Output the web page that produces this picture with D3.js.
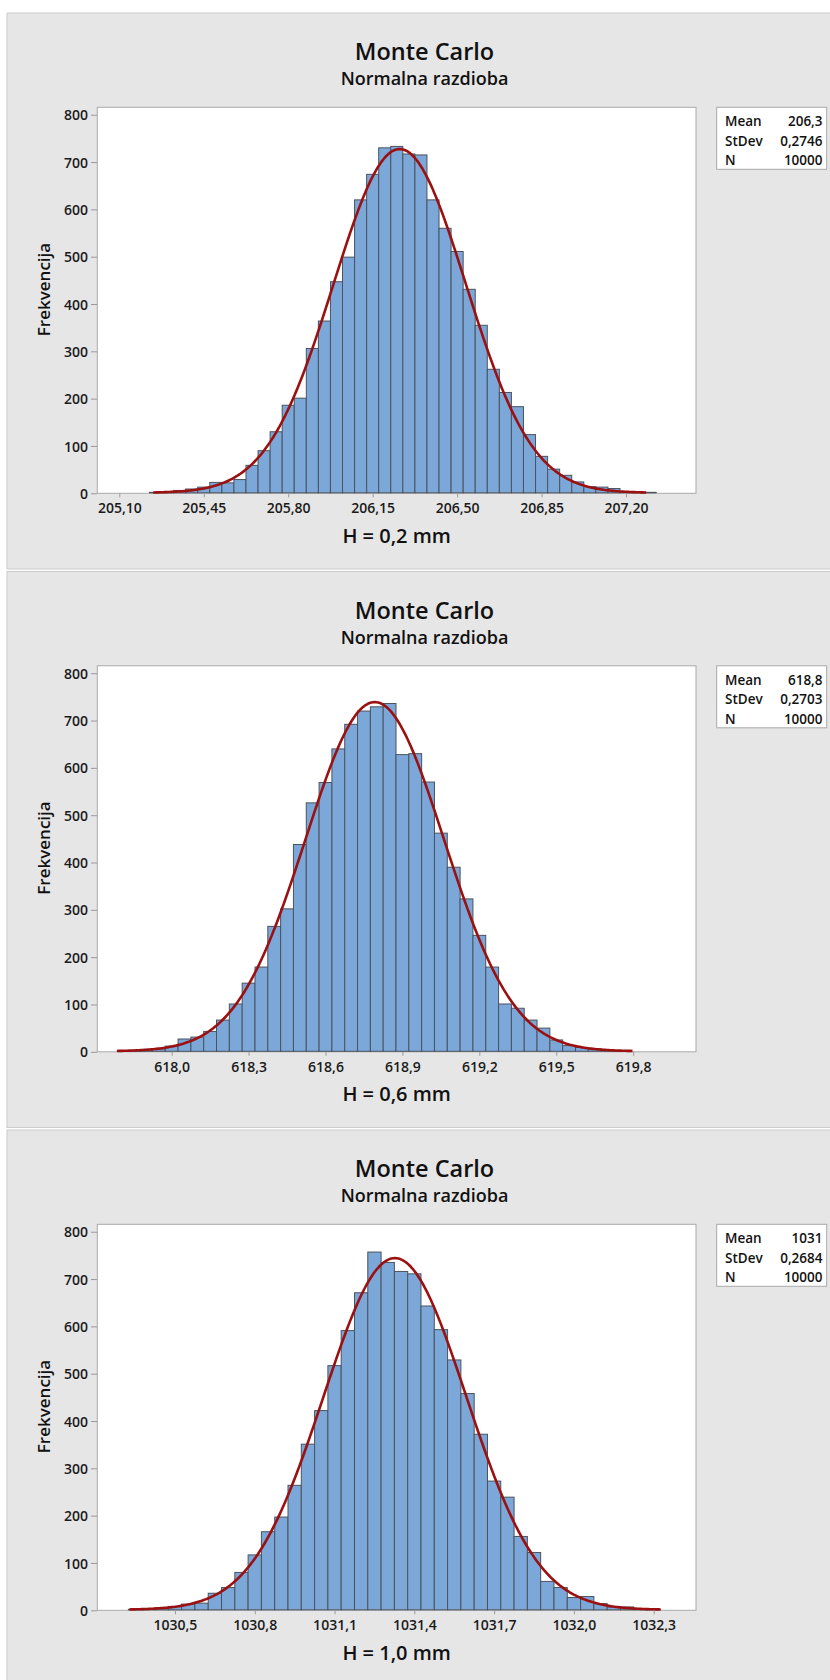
<!DOCTYPE html>
<html>
<head>
<meta charset="utf-8">
<script src="https://cdn.jsdelivr.net/npm/d3@7"></script>
<style>
  html, body { margin: 0; padding: 0; background: #ffffff; }
  svg { display: block; }
  text { font-family: "Open Sans", "Noto Sans", sans-serif; }
</style>
</head>
<body>
<svg id="chart" width="830" height="1680"></svg>
<script>
// ---------------- DATA ----------------
const titles = ["Monte Carlo", "Monte Carlo", "Monte Carlo"];
const subtitles = ["Normalna razdioba", "Normalna razdioba", "Normalna razdioba"];
const xLabels = ["H = 0,2 mm", "H = 0,6 mm", "H = 1,0 mm"];
const yLabel = "Frekvencija";

const binWidth = 0.05;

// bin midpoints (categories) and counts, panel 1
const mids1 = [205.05,205.10,205.15,205.20,205.25,205.30,205.35,205.40,205.45,205.50,
  205.55,205.60,205.65,205.70,205.75,205.80,205.85,205.90,205.95,206.00,
  206.05,206.10,206.15,206.20,206.25,206.30,206.35,206.40,206.45,206.50,
  206.55,206.60,206.65,206.70,206.75,206.80,206.85,206.90,206.95,207.00,
  207.05,207.10,207.15,207.20,207.25,207.30,207.35,207.40,207.45];
const counts1 = [0,0,0,0,1,2,5,8,12,22,
  21,28,58,89,129,185,200,305,363,446,
  498,619,673,729,732,716,714,619,559,510,
  430,354,261,212,182,123,77,50,37,23,
  13,12,9,2,1,1,0,0,0];

// panel 2
const mids2 = [617.75,617.80,617.85,617.90,617.95,618.00,618.05,618.10,618.15,618.20,
  618.25,618.30,618.35,618.40,618.45,618.50,618.55,618.60,618.65,618.70,
  618.75,618.80,618.85,618.90,618.95,619.00,619.05,619.10,619.15,619.20,
  619.25,619.30,619.35,619.40,619.45,619.50,619.55,619.60,619.65,619.70,
  619.75,619.80,619.85,619.90,619.95,620.00];
const counts2 = [0,0,1,3,5,11,26,30,42,66,
  100,144,178,264,301,437,525,568,639,691,
  719,728,735,627,629,569,461,389,322,245,
  178,100,91,66,49,24,12,8,5,2,
  1,0,0,0,0,0];

// panel 3
const mids3 = [1030.25,1030.30,1030.35,1030.40,1030.45,1030.50,1030.55,1030.60,1030.65,1030.70,
  1030.75,1030.80,1030.85,1030.90,1030.95,1031.00,1031.05,1031.10,1031.15,1031.20,
  1031.25,1031.30,1031.35,1031.40,1031.45,1031.50,1031.55,1031.60,1031.65,1031.70,
  1031.75,1031.80,1031.85,1031.90,1031.95,1032.00,1032.05,1032.10,1032.15,1032.20,
  1032.25,1032.30,1032.35,1032.40];
const counts3 = [0,0,1,2,4,7,12,14,35,47,
  79,116,165,196,263,350,421,516,590,670,
  756,734,715,710,642,592,528,457,371,272,
  238,155,121,60,47,26,28,13,6,6,
  2,1,0,0];

// x axis extents and tick values
const xDomains = [[205.0088, 207.490], [617.710, 620.045], [1030.208, 1032.459]];
const xTicks1 = [205.10, 205.45, 205.80, 206.15, 206.50, 206.85, 207.20];
const xTicks2 = [618.0, 618.3, 618.6, 618.9, 619.2, 619.5, 619.8];
const xTicks3 = [1030.5, 1030.8, 1031.1, 1031.4, 1031.7, 1032.0, 1032.3];
const xTickDecimals = [2, 1, 1];
const yTicks = [0, 100, 200, 300, 400, 500, 600, 700, 800];
const yMax = 815.7;

const fitMean = [206.262, 618.792, 1031.327];
const stDev = [0.2746, 0.2703, 0.2684];
const nObs = [10000, 10000, 10000];

// legend texts
const legendKeys = ["Mean", "StDev", "N"];
const legendVals1 = ["206,3", "0,2746", "10000"];
const legendVals2 = ["618,8", "0,2703", "10000"];
const legendVals3 = ["1031", "0,2684", "10000"];

// ---------------- LAYOUT ----------------
const panels = [
  {mids: mids1, counts: counts1, ticks: xTicks1, legend: legendVals1},
  {mids: mids2, counts: counts2, ticks: xTicks2, legend: legendVals2},
  {mids: mids3, counts: counts3, ticks: xTicks3, legend: legendVals3}
];
const panelStep = 558.5;
const plotL = 97.3, plotR = 696, plotT = 107.3, plotB = 493.3;

const svg = d3.select("#chart");

panels.forEach((p, i) => {
  const g = svg.append("g").attr("transform", `translate(0,${i * panelStep})`);

  // panel background
  g.append("rect")
    .attr("x", 7).attr("y", 13)
    .attr("width", 830).attr("height", 556)
    .attr("fill", "#e6e6e6")
    .attr("stroke", "#cbcbcb").attr("stroke-width", 1);

  const x = d3.scaleLinear().domain(xDomains[i]).range([plotL, plotR]);
  const y = d3.scaleLinear().domain([0, yMax]).range([plotB, plotT]);

  // plot frame
  g.append("rect")
    .attr("x", plotL).attr("y", plotT)
    .attr("width", plotR - plotL).attr("height", plotB - plotT)
    .attr("fill", "#ffffff")
    .attr("stroke", "#a9a9a9").attr("stroke-width", 1);

  // bars
  const bins = p.mids.map((m, k) => ({m, c: p.counts[k]}));
  g.append("g").selectAll("rect").data(bins).join("rect")
    .attr("x", d => x(d.m - binWidth / 2))
    .attr("width", d => x(d.m + binWidth / 2) - x(d.m - binWidth / 2))
    .attr("y", d => y(d.c) - 0.5)
    .attr("height", d => y(0) - y(d.c))
    .attr("fill", "#7ba7d9")
    .attr("stroke", "#4b535d")
    .attr("stroke-width", 1);

  // fitted normal curve
  const mu = fitMean[i], sd = stDev[i];
  const scale = nObs[i] * binWidth / (sd * Math.sqrt(2 * Math.PI));
  const xs = d3.range(mu - 3.72 * sd, mu + 3.72 * sd + 1e-9, 7.44 * sd / 300);
  const pts = xs.map(v => [v, scale * Math.exp(-0.5 * ((v - mu) / sd) ** 2)]);
  g.append("path")
    .datum(pts)
    .attr("d", d3.line().x(d => x(d[0])).y(d => y(d[1]) - 0.5))
    .attr("fill", "none")
    .attr("stroke", "#9b1111")
    .attr("stroke-width", 2.6)
    .attr("stroke-linejoin", "round");

  // axes
  const fmt = v => v.toFixed(xTickDecimals[i]).replace(".", ",");
  const xAxis = g.append("g")
    .attr("transform", `translate(0,${plotB})`)
    .call(d3.axisBottom(x).tickValues(p.ticks).tickFormat(fmt).tickSize(4).tickPadding(6));
  const yAxis = g.append("g")
    .attr("transform", `translate(${plotL - 0.3},0)`)
    .call(d3.axisLeft(y).tickValues(yTicks).tickFormat(d3.format("d")).tickSize(6).tickPadding(3));
  [xAxis, yAxis].forEach(a => {
    a.select(".domain").remove();
    a.selectAll(".tick line").attr("stroke", "#9a9a9a");
    a.selectAll(".tick text")
      .attr("fill", "#1a1a1a")
      .style("font-family", '"Open Sans", sans-serif')
      .style("font-size", "14px")
      .style("font-weight", "600");
  });
  yAxis.selectAll(".tick text").attr("dy", "0.36em");

  // titles
  g.append("text")
    .attr("x", 424.5).attr("y", 60)
    .attr("text-anchor", "middle")
    .attr("fill", "#111")
    .style("font-size", "23.5px").style("font-weight", "600")
    .text(titles[i]);
  g.append("text")
    .attr("x", 424.5).attr("y", 85)
    .attr("text-anchor", "middle")
    .attr("fill", "#111")
    .style("font-size", "18px").style("font-weight", "600")
    .text(subtitles[i]);

  // axis titles
  g.append("text")
    .attr("x", (plotL + plotR) / 2).attr("y", 542.5)
    .attr("text-anchor", "middle")
    .attr("fill", "#111")
    .style("font-size", "20px").style("font-weight", "600")
    .text(xLabels[i]);
  g.append("text")
    .attr("transform", "translate(50,289.5) rotate(-90)")
    .attr("text-anchor", "middle")
    .attr("fill", "#111")
    .style("font-size", "17px").style("font-weight", "600")
    .text(yLabel);

  // legend box
  const lg = g.append("g");
  lg.append("rect")
    .attr("x", 716.7).attr("y", plotT)
    .attr("width", 110).attr("height", 62)
    .attr("fill", "#ffffff")
    .attr("stroke", "#a9a9a9").attr("stroke-width", 1);
  const rowY = [126, 145.5, 165];
  legendKeys.forEach((k, r) => {
    lg.append("text")
      .attr("x", 725).attr("y", rowY[r])
      .attr("fill", "#111")
      .style("font-size", "13.5px").style("font-weight", "600")
      .text(k);
    lg.append("text")
      .attr("x", 822.5).attr("y", rowY[r])
      .attr("text-anchor", "end")
      .attr("fill", "#111")
      .style("font-size", "13.5px").style("font-weight", "600")
      .text(p.legend[r]);
  });
});
</script>
</body>
</html>
